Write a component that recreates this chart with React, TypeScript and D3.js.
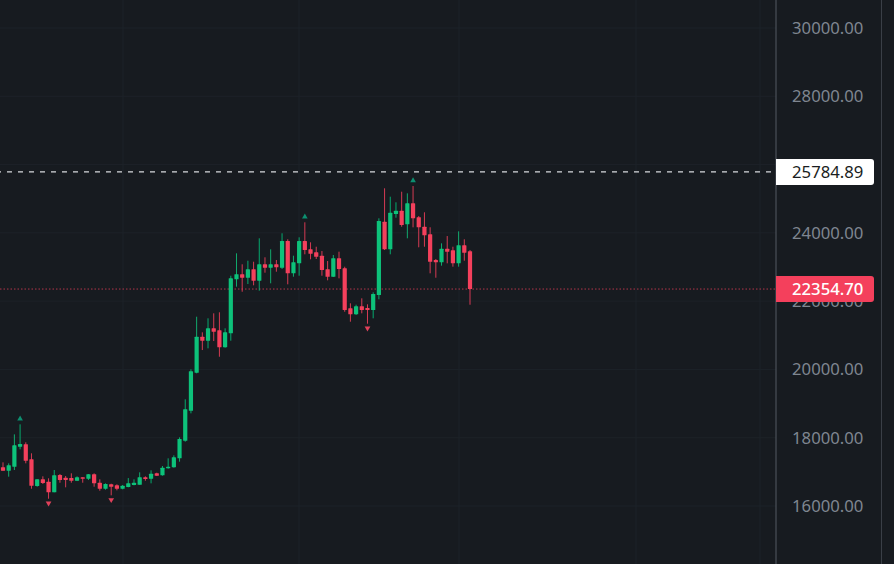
import * as d3 from "d3";

const opens = [17133,17033,17151,17736,17807,17367,16585,16781,16711,16401,16907,16828,16819,16740,16840,16799,16928,16682,16506,16635,16606,16506,16556,16615,16624,16840,16799,16957,16899,17103,17133,17396,17912,18791,19904,20958,20841,21204,21146,20647,21058,22639,22786,22686,22932,22598,23079,22979,23079,22979,23761,22815,23108,23761,23518,23430,23331,22932,22715,23254,22961,21790,21614,21849,21799,21740,22179,24327,23518,24552,24649,24250,24865,24455,24180,23957,23205,23137,23536,23489,23108,23635,23459];
const highs = [17279,17250,18099,18392,17865,17543,16781,16869,16811,17054,16937,16878,16957,16869,16840,16937,16957,16781,16664,16653,16635,16614,16819,16781,16987,16869,17045,16975,17171,17396,17484,18011,19124,20003,21544,21087,21497,21643,21673,21204,22745,23401,23079,23184,23155,23840,23284,23518,23205,23987,23811,23331,23869,24309,23723,23594,23468,23175,23351,23448,23008,21936,21896,22083,21907,22258,24426,25305,25059,24895,25205,25158,25372,24493,24602,24163,23234,23694,23907,23594,24045,23811,23498];
const lows = [17033,16858,17054,17660,17250,16506,16565,16644,16213,16401,16682,16547,16682,16731,16682,16761,16565,16447,16477,16313,16459,16488,16547,16606,16624,16740,16664,16878,16887,17092,17121,17297,17883,18714,19886,20568,20618,20832,20372,20636,20841,22423,22276,22502,22464,22306,22833,22522,22862,22941,22493,22715,22745,23372,23225,23234,22745,22610,22707,22668,21690,21398,21594,21643,21339,21497,22054,23497,23372,24444,24180,23840,24162,23577,23594,22815,22686,23038,23108,23009,23009,23184,21895];
const closes = [17033,17191,17777,17815,17326,16594,16781,16673,16401,16899,16761,16761,16740,16840,16799,16928,16664,16506,16644,16565,16506,16594,16664,16682,16840,16790,16945,16887,17121,17150,17425,17962,18832,19945,20958,20841,21204,21104,20647,21087,22668,22786,22686,22932,22598,23079,22979,23079,22991,23761,22815,23137,23761,23498,23389,23301,22912,22715,23254,22941,21740,21614,21849,21740,21740,22209,24347,23518,24590,24649,24230,24865,24426,24163,23928,23155,23137,23536,23448,23108,23635,23418,22354.7];

const upMarkers = [3, 53, 72];
const downMarkers = [8, 19, 64];
const priceTicks = [16000, 18000, 20000, 22000, 24000, 26000, 28000, 30000];
const timeGrid = [123, 299, 459, 636, 760];
const highLine = 25784.89;
const lastPrice = 22354.7;

const BG = "#171b20";
const GREEN = "#0ac27a";
const RED = "#f4405c";

const width = 894;
const height = 564;
const axisX = 776;

const y = d3.scaleLinear().domain([16000, 30000]).range([506, 28]);
const x = d3.scaleLinear().domain([0, 82]).range([3, 470]);
const fmt = d3.format(".2f");
const triangle = d3.symbol().type(d3.symbolTriangle).size(14);

export default function App() {
  return (
    <svg
      width={width}
      height={height}
      viewBox={`0 0 ${width} ${height}`}
      style={{ position: "fixed", left: 0, top: 0, display: "block" }}
      fontFamily="'Noto Sans', sans-serif"
    >
      <defs>
        <filter id="soft" x="-5%" y="-5%" width="110%" height="110%">
          <feGaussianBlur stdDeviation="0.3" />
        </filter>
      </defs>
      <rect width={width} height={height} fill={BG} />

      {priceTicks.map((t) => (
        <line key={t} x1={0} x2={axisX} y1={y(t)} y2={y(t)} stroke="#1d2228" />
      ))}
      {timeGrid.map((g) => (
        <line key={g} x1={g} x2={g} y1={0} y2={height} stroke="#1d2228" />
      ))}

      <line x1={0} x2={axisX} y1={y(lastPrice)} y2={y(lastPrice)} stroke={RED} strokeOpacity={0.7} strokeDasharray="1.5 2" />
      <line x1={0} x2={axisX} y1={y(highLine)} y2={y(highLine)} stroke="#d8dadd" strokeWidth={1.3} strokeDasharray="5 6" strokeDashoffset={4} />

      <g filter="url(#soft)">
        {opens.map((o, i) => {
          const c = closes[i];
          const color = c >= o ? GREEN : RED;
          const top = y(Math.max(o, c));
          const bottom = y(Math.min(o, c));
          return (
            <g key={i}>
              <line x1={x(i)} x2={x(i)} y1={y(highs[i])} y2={y(lows[i])} stroke={color} strokeOpacity={0.85} />
              <rect x={x(i) - 2.1} y={top} width={4.2} height={Math.max(bottom - top, 1)} rx={0.5} fill={color} />
            </g>
          );
        })}

        {upMarkers.map((i) => (
          <path key={i} transform={`translate(${x(i)},${y(highs[i]) - 5.5})`} d={triangle() ?? ""} fill="#0d8f6f" />
        ))}
        {downMarkers.map((i) => (
          <path key={i} transform={`translate(${x(i)},${y(lows[i]) + 4.5}) rotate(180)`} d={triangle() ?? ""} fill="#e0405a" />
        ))}
      </g>

      <line x1={axisX} x2={axisX} y1={0} y2={height} stroke="#555a63" />
      <line x1={881.5} x2={881.5} y1={0} y2={height} stroke="#3a3f47" />

      {priceTicks.map((t) => (
        <text key={t} x={827.7} y={y(t)} dy="0.36em" textAnchor="middle" fontSize={16.7} fill="#7f8690">
          {fmt(t)}
        </text>
      ))}

      <path d={`M${axisX},${y(highLine) - 13}H871a3,3 0 0 1 3,3V${y(highLine) + 10}a3,3 0 0 1 -3,3H${axisX}Z`} fill="#ffffff" />
      <text x={827.7} y={y(highLine)} dy="0.36em" textAnchor="middle" fontSize={16.7} fill="#1a1d21">
        {fmt(highLine)}
      </text>

      <path d={`M${axisX},${y(lastPrice) - 13}H871a3,3 0 0 1 3,3V${y(lastPrice) + 10}a3,3 0 0 1 -3,3H${axisX}Z`} fill={RED} />
      <text x={827.7} y={y(lastPrice)} dy="0.36em" textAnchor="middle" fontSize={16.7} fontWeight={500} fill="#ffffff">
        {fmt(lastPrice)}
      </text>
    </svg>
  );
}
